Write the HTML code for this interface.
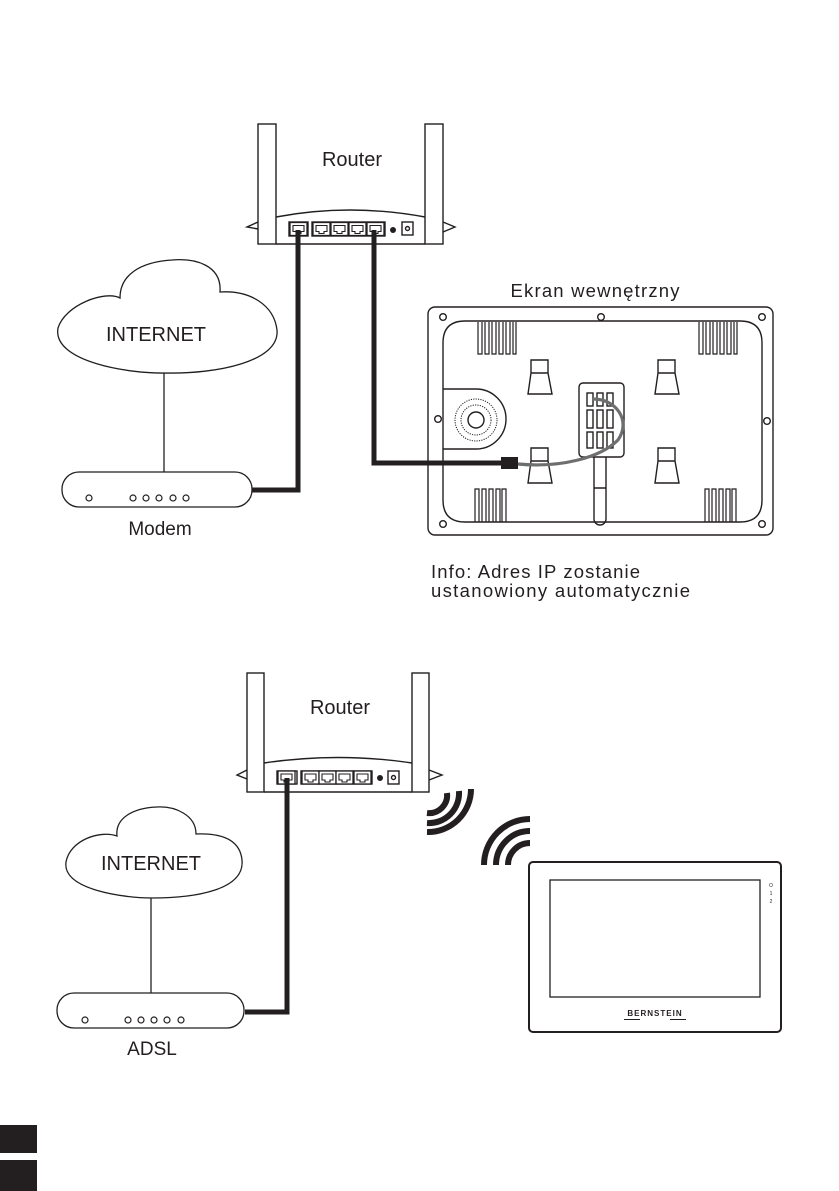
<!DOCTYPE html>
<html><head><meta charset="utf-8"><style>
html,body{margin:0;padding:0;background:#fff}
svg{display:block}
text{font-family:"Liberation Sans",sans-serif;fill:#231f20}
</style></head><body>
<svg width="839" height="1191" viewBox="0 0 839 1191" xmlns="http://www.w3.org/2000/svg">
<defs>
<g id="port"><rect x="0" y="0" width="17" height="13" fill="#fff" stroke="#231f20" stroke-width="1.3"/><path d="M3 3 H14 V9 H11 V11 H6 V9 H3 Z" fill="none" stroke="#231f20" stroke-width="1.1"/></g>
</defs>
<g fill="none" stroke="#231f20" stroke-width="1.4">
<!-- TOP ROUTER -->
<path d="M258 229 L247 227 L258 222 M443 222 L455 227 L443 232" />
<path d="M276 217 Q350 203 425 217" />
<line x1="276" y1="244" x2="425" y2="244"/>
<rect x="258" y="124" width="18" height="120" fill="#fff"/>
<rect x="425" y="124" width="18" height="120" fill="#fff"/>
<rect x="289" y="222" width="19" height="14"/>
<rect x="312" y="222" width="73" height="14"/>
<rect x="402" y="222" width="11" height="13"/>
<circle cx="407.5" cy="228.5" r="2"/>
</g>
<g transform="translate(290,222.5)"><use href="#port" transform="scale(1)"/></g>
<use href="#port" x="313" y="222.5"/><use href="#port" x="331" y="222.5"/><use href="#port" x="349" y="222.5"/><use href="#port" x="367" y="222.5"/>
<circle cx="393" cy="230" r="3" fill="#231f20"/>
<text x="352" y="166" font-size="20" text-anchor="middle">Router</text>

<!-- cables top -->
<path d="M298 230 V490 H252" fill="none" stroke="#231f20" stroke-width="5"/>
<path d="M374 230 V463 H505" fill="none" stroke="#231f20" stroke-width="5"/>

<!-- TOP CLOUD -->
<path d="M120 298 C105 290 65 305 58 328 C52 362 130 374 167 373 C215 374 280 362 277 330 C274 305 250 290 220 292 C222 265 195 258 172 260 C140 262 120 275 120 298 Z" fill="none" stroke="#231f20" stroke-width="1.3"/>
<text x="156" y="341" font-size="20" text-anchor="middle">INTERNET</text>
<line x1="164" y1="373" x2="164" y2="472" stroke="#231f20" stroke-width="1.3"/>
<rect x="62" y="472" width="190" height="35" rx="17" fill="none" stroke="#231f20" stroke-width="1.3"/>
<g fill="none" stroke="#231f20" stroke-width="1.2">
<circle cx="89" cy="498" r="3"/><circle cx="133" cy="498" r="3"/><circle cx="146" cy="498" r="3"/><circle cx="159" cy="498" r="3"/><circle cx="173" cy="498" r="3"/><circle cx="186" cy="498" r="3"/>
</g>
<text x="160" y="535" font-size="19" text-anchor="middle">Modem</text>

<!-- MONITOR -->
<text x="595" y="297" font-size="18.5" text-anchor="middle" textLength="169">Ekran wewnętrzny</text>
<g fill="none" stroke="#231f20" stroke-width="1.4">
<rect x="428" y="307" width="345" height="228" rx="7"/>
<path d="M465 321 H740 Q762 321 762 343 V500 Q762 522 740 522 H465 Q443 522 443 500 V343 Q443 321 465 321 Z"/>
<circle cx="443" cy="317" r="3.3"/><circle cx="601" cy="317" r="3.3"/><circle cx="762" cy="317" r="3.3"/>
<circle cx="438" cy="419" r="3.3"/><circle cx="767" cy="421" r="3.3"/>
<circle cx="443" cy="524" r="3.3"/><circle cx="762" cy="524" r="3.3"/>
<!-- speaker hump -->
<path d="M443 389 H476 A30 30 0 0 1 476 449 H443"/>
<circle cx="476" cy="420" r="21" stroke-width="1" stroke-dasharray="1.2 1.2"/>
<circle cx="476" cy="420" r="15" stroke-width="1" stroke-dasharray="1.2 1.2"/>
<circle cx="476" cy="420" r="8"/>
<!-- feet -->
<path d="M531 360 H548 V373 L552 394 H528 L531 373 Z M531 373 H548"/>
<path d="M658 360 H675 V373 L679 394 H655 L658 373 Z M658 373 H675"/>
<path d="M531 448 H548 V461 L552 483 H528 L531 461 Z M531 461 H548"/>
<path d="M658 448 H675 V461 L679 483 H655 L658 461 Z M658 461 H675"/>
<!-- connector -->
<rect x="579" y="383" width="45" height="74" rx="4"/>
<rect x="587" y="393" width="6" height="13"/><rect x="597" y="393" width="6" height="13"/><rect x="607" y="393" width="6" height="13"/>
<rect x="587" y="410" width="6" height="18"/><rect x="597" y="410" width="6" height="18"/><rect x="607" y="410" width="6" height="18"/>
<rect x="587" y="432" width="6" height="16"/><rect x="597" y="432" width="6" height="16"/><rect x="607" y="432" width="6" height="16"/>
<path d="M594 457 V519 A6 6 0 0 0 606 519 V457 M594 488 H606"/>
</g>
<g fill="none" stroke="#231f20" stroke-width="1.2">
<path d="M478 322 v32 h4 v-32 M485 322 v32 h4 v-32 M492 322 v32 h4 v-32 M499 322 v32 h4 v-32 M506 322 v32 h4 v-32 M513 322 v32 h3 v-32"/>
<path d="M699 322 v32 h4 v-32 M706 322 v32 h4 v-32 M713 322 v32 h4 v-32 M720 322 v32 h4 v-32 M727 322 v32 h4 v-32 M734 322 v32 h3 v-32"/>
<path d="M475 522 v-33 h4 v33 M482 522 v-33 h4 v33 M489 522 v-33 h4 v33 M496 522 v-33 h4 v33 M502 522 v-33 h4 v33"/>
<path d="M705 522 v-33 h4 v33 M712 522 v-33 h4 v33 M719 522 v-33 h4 v33 M726 522 v-33 h4 v33 M732 522 v-33 h4 v33"/>
</g>
<path d="M518 464 C560 468 600 458 618 440 C632 420 615 398 592 399" fill="none" stroke="#6d6e70" stroke-width="3.2"/>
<rect x="501" y="457" width="17" height="12" fill="#231f20"/>

<text x="431" y="578" font-size="18.5" textLength="209">Info: Adres IP zostanie</text>
<text x="431" y="597" font-size="18.5" textLength="259">ustanowiony automatycznie</text>

<!-- BOTTOM ROUTER -->
<g fill="none" stroke="#231f20" stroke-width="1.4">
<path d="M247 779 L237 775 L247 770 M429 770 L442 775 L429 780"/>
<path d="M264 763 Q338 752 412 763"/>
<line x1="264" y1="792" x2="412" y2="792"/>
<rect x="247" y="673" width="17" height="119" fill="#fff"/>
<rect x="412" y="673" width="17" height="119" fill="#fff"/>
<rect x="277" y="771" width="20" height="13"/>
<rect x="301" y="771" width="71" height="13"/>
<rect x="388" y="771" width="11" height="13"/>
<circle cx="393.5" cy="777.5" r="2"/>
</g>
<use href="#port" x="278" y="771"/>
<use href="#port" x="302" y="771"/><use href="#port" x="319" y="771"/><use href="#port" x="336" y="771"/><use href="#port" x="354" y="771"/>
<circle cx="380" cy="778" r="3" fill="#231f20"/>
<text x="340" y="714" font-size="20" text-anchor="middle">Router</text>
<path d="M287 778 V1012 H245" fill="none" stroke="#231f20" stroke-width="5"/>

<!-- BOTTOM CLOUD -->
<path d="M117 836 C100 830 70 840 66 862 C62 890 125 898 152 898 C195 898 245 890 242 860 C240 840 222 833 196 834 C196 815 175 806 157 807 C133 808 115 818 117 836 Z" fill="none" stroke="#231f20" stroke-width="1.3"/>
<text x="151" y="870" font-size="20" text-anchor="middle">INTERNET</text>
<line x1="151" y1="898" x2="151" y2="993" stroke="#231f20" stroke-width="1.3"/>
<rect x="57" y="993" width="187" height="35" rx="17" fill="none" stroke="#231f20" stroke-width="1.3"/>
<g fill="none" stroke="#231f20" stroke-width="1.2">
<circle cx="85" cy="1020" r="3"/><circle cx="128" cy="1020" r="3"/><circle cx="141" cy="1020" r="3"/><circle cx="154" cy="1020" r="3"/><circle cx="167" cy="1020" r="3"/><circle cx="181" cy="1020" r="3"/>
</g>
<text x="152" y="1055" font-size="19" text-anchor="middle">ADSL</text>

<!-- wifi arcs -->
<g fill="none" stroke="#231f20" stroke-width="6">
<path d="M427 813 A18 18 0 0 0 447 793"/>
<path d="M427 823 A30 30 0 0 0 459 791"/>
<path d="M427 832 A43 43 0 0 0 471 789"/>
<path d="M508 865 A22 22 0 0 1 530 843"/>
<path d="M496 865 A34 34 0 0 1 530 831"/>
<path d="M484 865 A46 46 0 0 1 530 819"/>
</g>

<!-- tablet -->
<rect x="529" y="862" width="252" height="170" rx="4" fill="none" stroke="#231f20" stroke-width="2"/>
<rect x="550" y="880" width="210" height="117" fill="none" stroke="#231f20" stroke-width="1.3"/>
<text x="771" y="887" font-size="5" text-anchor="middle">O</text>
<text x="771" y="895" font-size="5" text-anchor="middle">1</text>
<text x="771" y="903" font-size="5" text-anchor="middle">2</text>
<text x="655" y="1016" font-size="8" text-anchor="middle" letter-spacing="1" font-weight="bold">BERNSTEIN</text>
<path d="M624 1019.5 H640 M670 1019.5 H686" stroke="#231f20" stroke-width="1"/>

<rect x="0" y="1125" width="37" height="28" fill="#231f20"/>
<rect x="0" y="1160" width="37" height="31" fill="#231f20"/>
</svg>
</body></html>
